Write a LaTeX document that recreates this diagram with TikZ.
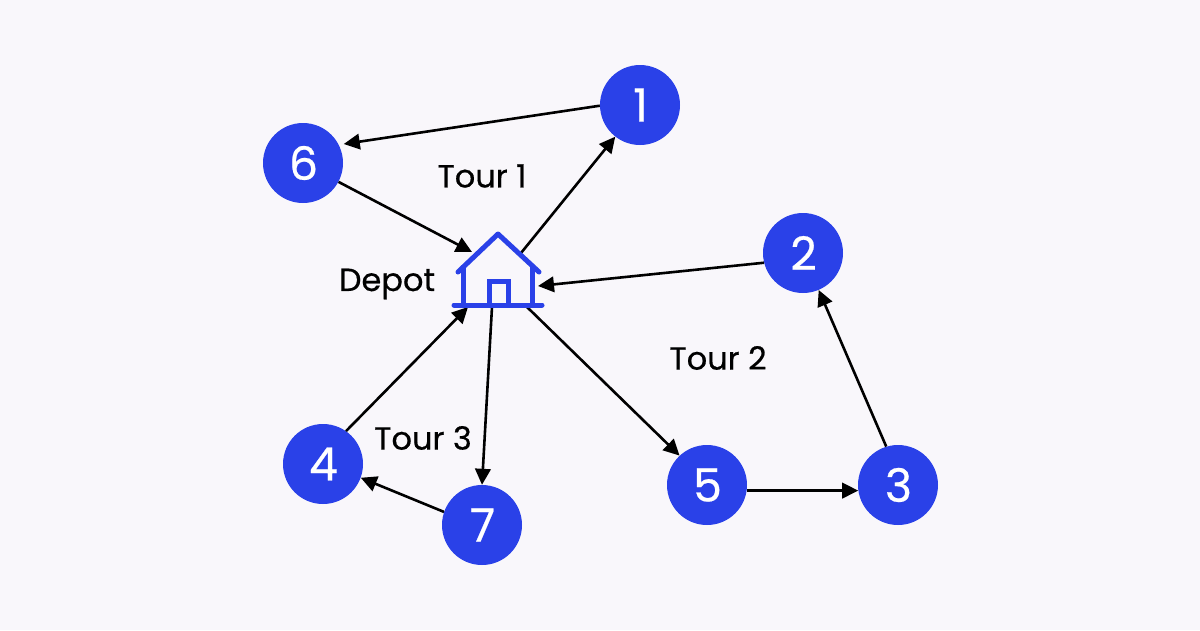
\documentclass[tikz,border=0pt]{standalone}
\usepackage{fontspec}
\setmainfont{Poppins}
\newfontfamily\medf[UprightFeatures={FakeBold=0.5}]{Poppins}
\usetikzlibrary{arrows.meta}
\definecolor{bg}{HTML}{F9F7FB}
\definecolor{blu}{HTML}{2A41E8}
\newcommand{\dig}[1]{\raisebox{-1.5pt}{\hspace*{1pt}#1}}
\tikzset{
  stop/.style={circle,fill=blu,text=white,minimum size=80pt,inner sep=0pt,font=\medf\fontsize{46}{46}\selectfont},
  lab/.style={text=black,inner sep=0pt,font=\medf\fontsize{32}{32}\selectfont},
  link/.style={line width=2.6pt,black,-{Triangle[length=16pt,width=15.5pt]}},
  housel/.style={line width=5pt,blu,line cap=round,line join=round}
}
\begin{document}
\begin{tikzpicture}[x=1pt,y=-1pt]
\path[use as bounding box,fill=bg] (0,0) rectangle (1200,630);
\coordinate (h6) at (472,252);
\coordinate (h1) at (521,253);
\coordinate (h2) at (538,286);
\coordinate (h5) at (527,307);
\coordinate (h7) at (492,307);
\coordinate (h4) at (468,307);
\node[stop] (n1) at (640,105) {\dig{1}};
\node[stop] (n2) at (803,253) {\dig{2}};
\node[stop] (n3) at (898,485) {\dig{3}};
\node[stop] (n4) at (323,464) {\dig{4}};
\node[stop] (n5) at (707,485) {\dig{5}};
\node[stop] (n6) at (303,163) {\dig{6}};
\node[stop] (n7) at (482,525) {\dig{7}};
\draw[link,shorten >=5pt] (n1.181) -- (n6.27);
\draw[link] (n6.-28) -- (h6);
\draw[link] (h1) -- (n1.232);
\draw[link] (n2.194) -- (h2);
\draw[link] (n3.107) -- (n2.-67);
\draw[link] (n5.-8.5) -- (n3.188);
\draw[link] (h5) -- (n5.133);
\draw[link] (h7) -- (n7.90);
\draw[link] (n7.161) -- (n4.-20);
\draw[link] (n4.55) -- (h4);
\draw[housel] (458,272) -- (498,234) -- (539,272);
\draw[housel] (463,267) -- (463,305) (532,267) -- (532,305);
\draw[housel] (454,305) -- (542,305);
\draw[housel,line cap=butt,line join=miter] (489,305) -- (489,281) -- (508,281) -- (508,305);
\node[lab] (t1) at (482,176) {Tour 1};
\node[lab] (t2) at (718,358) {Tour 2};
\node[lab] (t3) at (423,438) {Tour 3};
\node[lab] (dp) at (387,284) {Depot};
\end{tikzpicture}
\end{document}
